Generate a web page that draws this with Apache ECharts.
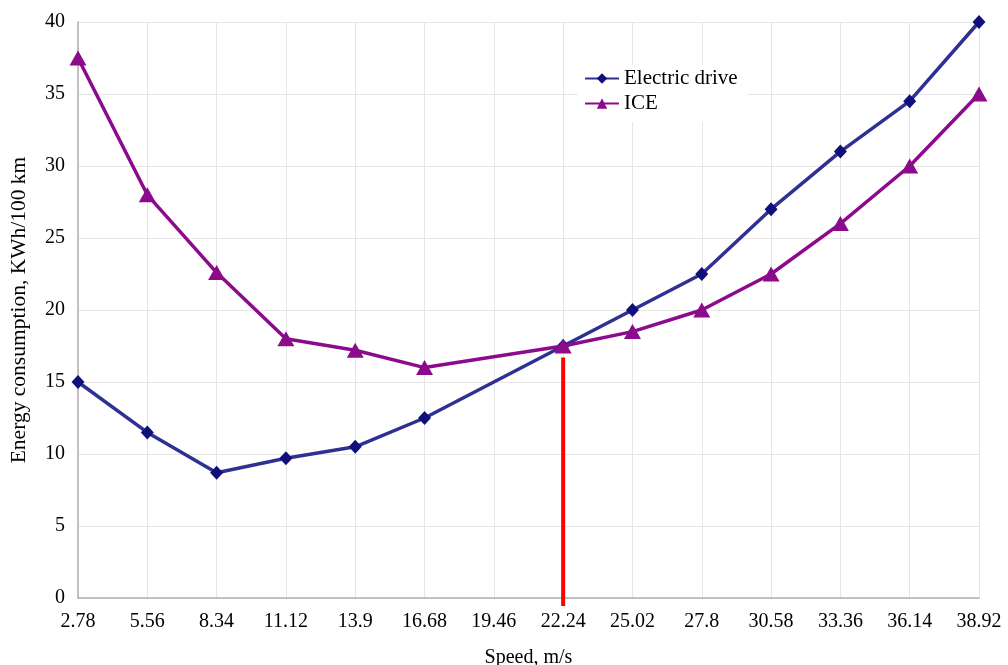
<!DOCTYPE html>
<html><head><meta charset="utf-8">
<script src="https://cdn.jsdelivr.net/npm/echarts@6/dist/echarts.min.js"></script>
<style>html,body{margin:0;padding:0;background:#fff}#c{width:1008px;height:665px}</style>
</head><body><div id="c"></div>
<script>
const speeds = ['2.78','5.56','8.34','11.12','13.9','16.68','19.46','22.24','25.02','27.8','30.58','33.36','36.14','38.92'];
const electricDrive = [15, 11.5, 8.7, 9.7, 10.5, 12.5, null, 17.5, 20, 22.5, 27, 31, 34.5, 40];
const ice = [37.5, 28, 22.6, 18, 17.2, 16, null, 17.5, 18.5, 20, 22.5, 26, 30, 35];
const markerSpeed = '22.24';
const markerTop = 16.7;

const font = '"Liberation Serif", "Times New Roman", serif';
const chart = echarts.init(document.getElementById('c'));
chart.setOption({
  backgroundColor: '#fff',
  animation: false,
  textStyle: { fontFamily: font },
  grid: { left: 78, right: 29, top: 22, bottom: 67, containLabel: false, outerBoundsMode: 'none' },
  legend: {
    orient: 'vertical', left: 578, top: 65,
    backgroundColor: '#fff', padding: [3, 10, 8, 6],
    itemWidth: 34, itemHeight: 13, itemGap: 4,
    textStyle: { fontFamily: font, fontSize: 21, color: '#000' },
    data: ['Electric drive', 'ICE']
  },
  xAxis: {
    type: 'category', data: speeds, boundaryGap: false,
    name: 'Speed, m/s', nameLocation: 'middle', nameGap: 50,
    nameTextStyle: { fontFamily: font, fontSize: 20, color: '#000' },
    axisLine: { lineStyle: { color: '#b0b0b0', width: 1.5 } },
    axisTick: { show: false },
    axisLabel: { fontFamily: font, fontSize: 20, color: '#000', margin: 14, interval: 0 },
    splitLine: { show: true, lineStyle: { color: '#e6e6e6', width: 1 } }
  },
  yAxis: {
    type: 'value', min: 0, max: 40, interval: 5,
    name: 'Energy consumption, KWh/100 km', nameLocation: 'middle', nameGap: 48,
    nameTextStyle: { fontFamily: font, fontSize: 21.5, color: '#000' },
    axisLine: { show: true, lineStyle: { color: '#b0b0b0', width: 1.5 } },
    axisTick: { show: false },
    axisLabel: { fontFamily: font, fontSize: 20, color: '#000', margin: 13 },
    splitLine: { show: true, lineStyle: { color: '#e6e6e6', width: 1 } }
  },
  series: [
    {
      type: 'custom', name: 'marker', silent: true, clip: false, z: 1,
      data: [[markerSpeed, markerTop]],
      renderItem: function (params, api) {
        const top = api.coord([api.value(0), api.value(1)]);
        const bot = api.coord([api.value(0), 0]);
        return { type: 'line', shape: { x1: top[0], y1: top[1], x2: bot[0], y2: bot[1] + 8 },
          style: { stroke: '#ff0000', lineWidth: 4 } };
      }
    },
    {
      name: 'Electric drive', type: 'line', data: electricDrive, connectNulls: true,
      symbol: 'diamond', symbolSize: [13, 14], z: 3,
      lineStyle: { color: '#2e3192', width: 3.5 },
      itemStyle: { color: '#10107a' }
    },
    {
      name: 'ICE', type: 'line', data: ice, connectNulls: true,
      symbol: 'triangle', symbolSize: [17, 15], z: 4,
      lineStyle: { color: '#8c0a8c', width: 3.5 },
      itemStyle: { color: '#8c0a8c' }
    }
  ]
});
</script></body></html>
